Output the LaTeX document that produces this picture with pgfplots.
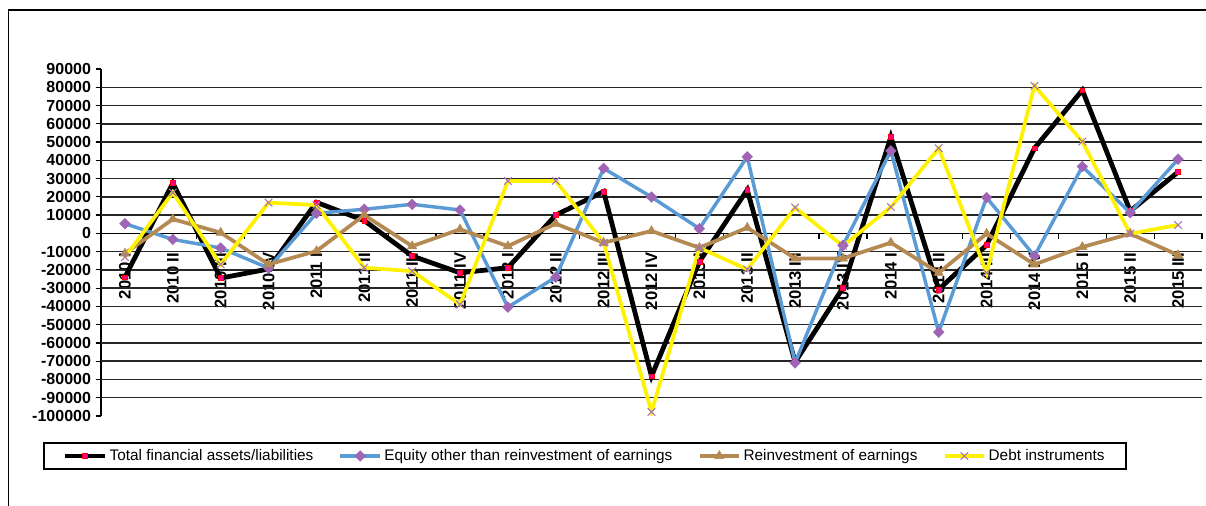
\documentclass[border=0pt]{standalone}
\usepackage{fontspec}
\setmainfont{Liberation Sans}
\usepackage{pgfplots}
\pgfplotsset{compat=1.18}
\usepackage{pgfplotstable}

\definecolor{pinkm}{RGB}{255,0,140}
\definecolor{eqblue}{RGB}{91,155,213}
\definecolor{purp}{RGB}{160,100,180}
\definecolor{tan}{RGB}{181,137,82}
\definecolor{xpurp}{RGB}{165,115,185}

% idx: 0 = 2010 I ... 22 = 2015 III
\pgfplotstableread{
idx total equity reinv debt
0  -24000   5300  -11000  -13000
1   27500  -3300    7800   22300
2  -24500  -8000     400  -17000
3  -19500 -19000  -17000   16800
4   17000  11000   -9700   15500
5    7000  13200   10000  -18800
6  -12400  15900   -7000  -20700
7  -21600  12800    2200  -38900
8  -18800 -40400   -7000   28700
9   10000 -24000    5300   28700
10  22900  35600   -5100   -5100
11 -78200  19900    1300  -97800
12 -15500   2600   -7900   -7900
13  23800  41900    3100  -19700
14 -70500 -70900  -13700   14100
15 -29800  -6600  -13700   -6900
16  52800  45200   -5100   14400
17 -30700 -54100  -21600   46600
18  -6400  19600    -200  -21600
19  46600 -12400  -17000   80800
20  78400  36600   -7500   50300
21  12200  11300    -200    -200
22  33600  40600  -11900    4600
}\data

\begin{document}
\begin{tikzpicture}
% 1 px of the reference = 0.75pt
\useasboundingbox (0,0) rectangle (904.5pt,379.5pt);
\draw[line width=1.1pt] (6.4pt,0pt) -- (6.4pt,372pt) -- (904.5pt,372pt);
\begin{axis}[
  at={(75.75pt,67.5pt)}, anchor=south west,
  scale only axis,
  width=825.75pt, height=260.25pt,
  xmin=-0.5, xmax=22.5,
  ymin=-100000, ymax=90000,
  axis y line=left, axis x line=middle,
  axis line style={-, line width=1pt, black},
  hide obscured x ticks=false, hide obscured y ticks=false,
  tick align=outside,
  ytick={-100000,-90000,-80000,-70000,-60000,-50000,-40000,-30000,-20000,-10000,0,10000,20000,30000,40000,50000,60000,70000,80000,90000},
  yticklabels={-100000,-90000,-80000,-70000,-60000,-50000,-40000,-30000,-20000,-10000,0,10000,20000,30000,40000,50000,60000,70000,80000,90000},
  extra y ticks={-90000,-80000,-70000,-60000,-50000,-40000,-30000,-20000,-10000,10000,20000,30000,40000,50000,60000,70000,80000},
  extra y tick labels={},
  extra y tick style={grid=major},
  major grid style={line width=1.1pt, black!85},
  major tick length=4pt,
  minor tick length=4pt,
  tick style={line width=0.9pt, black},
  xtick={0,...,22},
  major x tick style={draw=none},
  minor xtick={-0.5,0.5,...,22.5},
  minor x tick style={line width=0.9pt, black},
  xticklabels={2010 I,2010 II,2010 III,2010 IV,2011 I,2011 II,2011 III,2011 IV,2012 I,2012 II,2012 III,2012 IV,2013 I,2013 II,2013 III,2013 IV,2014 I,2014 II,2014 III,2014 IV,2015 I,2015 II,2015 III},
  xticklabel style={rotate=90, anchor=east, font=\fontsize{12.5}{14}\selectfont\bfseries},
  xticklabel shift={7pt},
  yticklabel style={font=\fontsize{12}{14}\selectfont\bfseries},
  scaled y ticks=false,
  legend columns=4,
  legend style={at={(0.4396,-0.1153)}, anchor=center, draw=black, line width=1.1pt,
    font=\fontsize{11.5}{13}\selectfont, inner xsep=14pt, inner ysep=3pt,
    /tikz/every even column/.append style={column sep=17pt}},
  legend cell align=left,
  legend image code/.code={\draw[mark repeat=2,mark phase=2] plot coordinates {(0cm,0cm)(0.52cm,0cm)(1.04cm,0cm)};},
]
\addplot[black, line width=3.6pt, mark=square*, mark size=1.8pt,
  mark options={fill=pinkm, draw=red, line width=0.4pt}] table[x=idx,y=total]{\data};
\addlegendentry{Total financial assets/liabilities}
\addplot[eqblue, line width=2.6pt, mark=square*, mark size=2.8pt,
  mark options={fill=purp, draw=purp, rotate=45, line width=0.4pt}] table[x=idx,y=equity]{\data};
\addlegendentry{Equity other than reinvestment of earnings}
\addplot[tan, line width=2.8pt, mark=triangle*, mark size=4pt,
  mark options={fill=tan, draw=tan, line width=0.4pt}] table[x=idx,y=reinv]{\data};
\addlegendentry{Reinvestment of earnings}
\addplot[yellow, line width=2.8pt, mark=x, mark size=4pt,
  mark options={draw=xpurp, line width=0.8pt}] table[x=idx,y=debt]{\data};
\addlegendentry{Debt instruments}
\end{axis}
\end{tikzpicture}
\end{document}
